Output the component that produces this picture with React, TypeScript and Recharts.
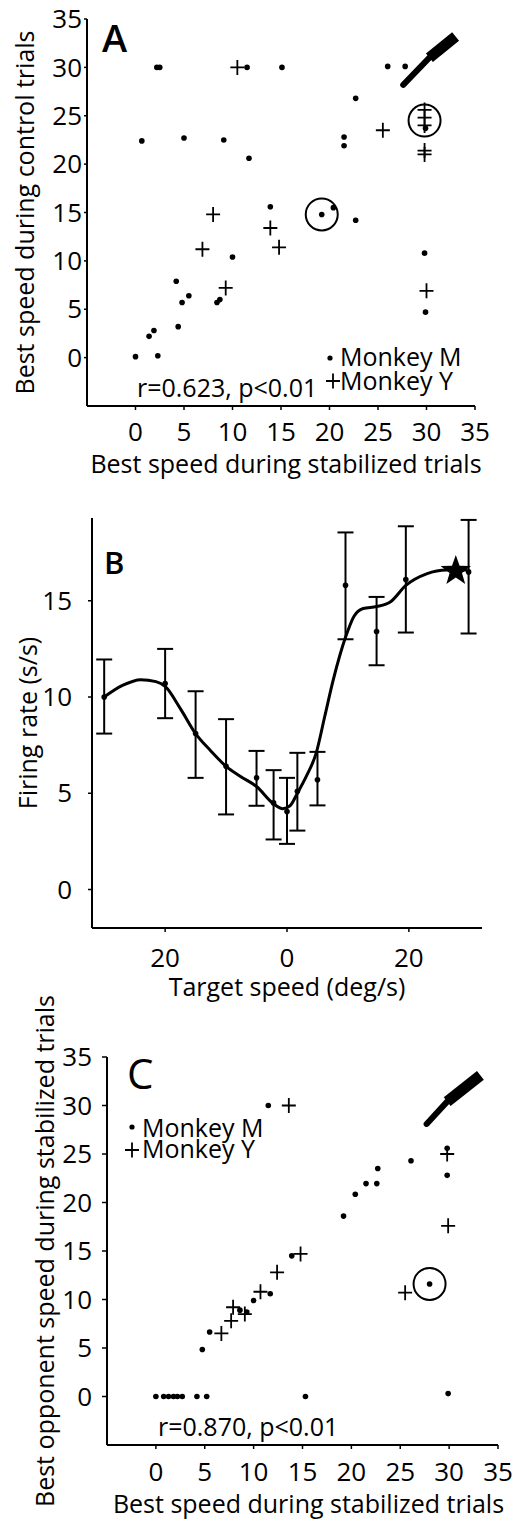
import React from 'react';
import {
  ComposedChart,
  ScatterChart,
  Scatter,
  Line,
  XAxis,
  YAxis,
  ErrorBar,
  ReferenceLine
} from 'recharts';

const FONT = '"Open Sans", sans-serif';

// ---- Panel A: best speed, stabilized (x) vs control (y) ----
const speedTicks = [0, 5, 10, 15, 20, 25, 30, 35];

const monkeyMA = [
  { x: 2.2, y: 30 }, { x: 2.5, y: 30 }, { x: 11.5, y: 30 }, { x: 15.1, y: 30 },
  { x: 26, y: 30.1 }, { x: 27.8, y: 30.1 }, { x: 22.7, y: 26.8 },
  { x: 0.65, y: 22.4 }, { x: 5, y: 22.7 }, { x: 9.1, y: 22.5 }, { x: 11.7, y: 20.6 },
  { x: 21.5, y: 22.8 }, { x: 21.5, y: 21.9 }, { x: 13.9, y: 15.6 }, { x: 19.2, y: 14.8 },
  { x: 20.4, y: 15.5 }, { x: 22.7, y: 14.2 }, { x: 10, y: 10.4 }, { x: 29.8, y: 10.8 },
  { x: 4.2, y: 7.9 }, { x: 4.8, y: 5.7 }, { x: 5.5, y: 6.4 }, { x: 4.4, y: 3.2 },
  { x: 1.4, y: 2.2 }, { x: 1.9, y: 2.8 }, { x: 0, y: 0.1 }, { x: 2.3, y: 0.2 },
  { x: 8.4, y: 5.7 }, { x: 8.7, y: 6.0 }, { x: 29.9, y: 4.7 }, { x: 29.9, y: 23.7 }
];

const monkeyYA = [
  { x: 10.5, y: 30 }, { x: 25.5, y: 23.5 }, { x: 29.8, y: 21.0 }, { x: 29.8, y: 21.4 },
  { x: 29.8, y: 25.6 }, { x: 29.8, y: 24.8 }, { x: 29.8, y: 24.0 }, { x: 8, y: 14.8 },
  { x: 6.9, y: 11.2 }, { x: 13.9, y: 13.4 }, { x: 14.8, y: 11.4 }, { x: 9.3, y: 7.2 },
  { x: 30, y: 6.9 }
];

const circledA = [{ x: 19.2, y: 14.8 }, { x: 29.8, y: 24.5 }];
const arrowA = [{ x: 27.6, y: 28.2 }, { x: 30.3, y: 31.0 }, { x: 33, y: 33.2 }];

// ---- Panel B: tuning curve ----
const targetTicks = [-20, 0, 20];
const rateTicks = [0, 5, 10, 15];
const tuningSpeeds = [-30, -20, -15, -10, -5, -2.2, 0, 1.7, 5, 9.6, 14.7, 19.5, 29.8];
const tuningRates = [10.0, 10.7, 8.1, 6.4, 5.8, 4.5, 4.05, 5.1, 5.7, 15.8, 13.4, 16.1, 16.5];
const tuningLow = [8.1, 8.9, 5.8, 3.9, 4.35, 2.6, 2.37, 3.06, 4.37, 13.0, 11.65, 13.35, 13.3];
const tuningHigh = [11.95, 12.5, 10.3, 8.85, 7.2, 6.2, 5.8, 7.1, 7.15, 18.55, 15.2, 18.87, 19.2];

const fitSpeeds = [-30, -27, -24, -21.5, -20, -17.5, -15, -12.5, -10, -7.5, -5, -2.2, -0.7, 0.5,
  1.7, 3.2, 4.8, 6.2, 7.6, 9.6, 11, 12.5, 14.7, 17, 19.5, 22.9, 26.2, 29.5];
const fitRates = [10.0, 10.6, 10.9, 10.8, 10.55, 9.4, 8.1, 7.2, 6.4, 5.85, 5.35, 4.45, 4.2, 4.35,
  5.0, 5.9, 7.1, 9.0, 10.9, 13.1, 14.2, 14.6, 14.7, 14.95, 15.8, 16.4, 16.6, 16.6];
const bestSpeed = [{ x: 27.7, y: 16.55 }];

// ---- Panel C: stabilized (x) vs best opponent (y) ----
const monkeyMC = [
  { x: 11.5, y: 30 }, { x: 29.8, y: 25.6 }, { x: 29.8, y: 22.8 }, { x: 26.1, y: 24.3 },
  { x: 22.7, y: 23.5 }, { x: 22.6, y: 21.95 }, { x: 21.5, y: 21.95 }, { x: 20.4, y: 20.85 },
  { x: 19.2, y: 18.6 }, { x: 13.9, y: 14.5 }, { x: 11.7, y: 10.6 }, { x: 10, y: 9.9 },
  { x: 8.6, y: 8.9 }, { x: 9.3, y: 8.7 }, { x: 5.5, y: 6.65 }, { x: 4.75, y: 4.85 },
  { x: 28, y: 11.6 }, { x: 0, y: 0 }, { x: 0.8, y: 0 }, { x: 1.3, y: 0 }, { x: 1.8, y: 0 },
  { x: 2.2, y: 0 }, { x: 2.7, y: 0 }, { x: 4.2, y: 0 }, { x: 5.2, y: 0 }, { x: 15.3, y: 0 },
  { x: 29.9, y: 0.3 }
];

const monkeyYC = [
  { x: 13.6, y: 30 }, { x: 29.8, y: 25.0 }, { x: 29.9, y: 17.6 }, { x: 14.8, y: 14.7 },
  { x: 12.4, y: 12.8 }, { x: 10.7, y: 10.8 }, { x: 7.9, y: 9.2 }, { x: 9.1, y: 8.5 },
  { x: 7.7, y: 7.8 }, { x: 6.7, y: 6.5 }, { x: 25.5, y: 10.7 }
];

const circledC = [{ x: 28, y: 11.6 }];
const arrowC = [{ x: 27.7, y: 28.1 }, { x: 29.8, y: 30.4 }, { x: 33.2, y: 33.1 }];

const tuningData = tuningSpeeds.map((x, i) => ({
  x,
  y: tuningRates[i],
  err: [tuningRates[i] - tuningLow[i], tuningHigh[i] - tuningRates[i]]
}));
const fitData = fitSpeeds.map((x, i) => ({ x, y: fitRates[i] }));

const Dot = (p: any) => <circle cx={p.cx} cy={p.cy} r={2.8} fill="#000" />;
const Cross = (p: any) => (
  <path
    d={`M${p.cx - 7},${p.cy}H${p.cx + 7}M${p.cx},${p.cy - 7.5}V${p.cy + 7.5}`}
    stroke="#000"
    strokeWidth={1.8}
    fill="none"
  />
);
const Ring = (p: any) => <circle cx={p.cx} cy={p.cy} r={16} stroke="#000" strokeWidth={2} fill="none" />;
const Star = (p: any) => {
  const pts = [];
  for (let i = 0; i < 10; i++) {
    const r = i % 2 === 0 ? 16 : 6.5;
    const a = -Math.PI / 2 + (i * Math.PI) / 5;
    pts.push(`${p.cx + r * Math.cos(a)},${p.cy + r * Math.sin(a)}`);
  }
  return <polygon points={pts.join(' ')} fill="#000" />;
};

const axisLine = { stroke: '#000', strokeWidth: 2 };
const tickLine = { stroke: '#000', strokeWidth: 1.5 };
const tickStyle = { fill: '#000', fontSize: 26, fontFamily: FONT };
const labelStyle = { fill: '#000', fontSize: 25, fontFamily: FONT };

export default function App() {
  return (
    <div style={{ position: 'absolute', left: 0, top: 0, width: 517, height: 1525, background: '#fff' }}>
      {/* Panel A */}
      <div style={{ position: 'absolute', left: 0, top: 0 }}>
        <ScatterChart width={517} height={490} margin={{ top: 19, right: 42, bottom: 0, left: 0 }}>
          <XAxis
            type="number"
            dataKey="x"
            domain={[-5, 35]}
            ticks={speedTicks}
            interval={0}
            allowDataOverflow
            height={84}
            tickSize={4}
            tickMargin={13}
            axisLine={axisLine}
            tickLine={tickLine}
            tick={tickStyle}
            label={{ value: 'Best speed during stabilized trials', position: 'insideBottom', offset: 17, ...labelStyle, dx: 5 }}
          />
          <YAxis
            type="number"
            dataKey="y"
            domain={[-5, 35]}
            ticks={speedTicks}
            interval={0}
            allowDataOverflow
            width={87}
            tickSize={3}
            tickMargin={2}
            axisLine={axisLine}
            tickLine={tickLine}
            tick={tickStyle}
            label={{ value: 'Best speed during control trials', position: 'center', angle: -90, dx: -18, ...labelStyle }}
          />
          <ReferenceLine segment={[arrowA[0], arrowA[1]]} stroke="#000" strokeWidth={6} strokeLinecap="round" />
          <ReferenceLine segment={[arrowA[1], arrowA[2]]} stroke="#000" strokeWidth={11} />
          <Scatter name="Monkey M" data={monkeyMA} shape={Dot} isAnimationActive={false} />
          <Scatter name="Monkey Y" data={monkeyYA} shape={Cross} isAnimationActive={false} />
          <Scatter data={circledA} shape={Ring} isAnimationActive={false} />
        </ScatterChart>
      </div>

      {/* Panel B */}
      <div style={{ position: 'absolute', left: 0, top: 490 }}>
        <ComposedChart width={517} height={515} margin={{ top: 28, right: 35, bottom: 0, left: 0 }}>
          <XAxis
            type="number"
            dataKey="x"
            domain={[-32, 32]}
            ticks={targetTicks}
            interval={0}
            allowDataOverflow
            height={77}
            tickSize={4}
            tickMargin={17}
            axisLine={axisLine}
            tickLine={tickLine}
            tick={tickStyle}
            tickFormatter={(v: number) => String(Math.abs(v))}
            label={{ value: 'Target speed (deg/s)', position: 'insideBottom', offset: 9, ...labelStyle }}
          />
          <YAxis
            type="number"
            dataKey="y"
            domain={[-2, 19.3]}
            ticks={rateTicks}
            interval={0}
            allowDataOverflow
            width={92}
            tickSize={4}
            tickMargin={16}
            axisLine={axisLine}
            tickLine={tickLine}
            tick={tickStyle}
            label={{ value: 'Firing rate (s/s)', position: 'center', angle: -90, dx: -18, ...labelStyle }}
          />
          <Line data={fitData} dataKey="y" type="monotone" stroke="#000" strokeWidth={3} dot={false} isAnimationActive={false} />
          <Scatter data={tuningData} dataKey="y" shape={Dot} isAnimationActive={false}>
            <ErrorBar dataKey="err" direction="y" width={8} stroke="#000" strokeWidth={2} />
          </Scatter>
          <Scatter data={bestSpeed} dataKey="y" shape={Star} isAnimationActive={false} />
        </ComposedChart>
      </div>

      {/* Panel C */}
      <div style={{ position: 'absolute', left: 0, top: 985 }}>
        <ScatterChart width={517} height={540} margin={{ top: 72, right: 19, bottom: 0, left: 0 }}>
          <XAxis
            type="number"
            dataKey="x"
            domain={[-5, 35]}
            ticks={speedTicks}
            interval={0}
            allowDataOverflow
            height={80}
            tickSize={4}
            tickMargin={14}
            axisLine={axisLine}
            tickLine={tickLine}
            tick={tickStyle}
            label={{ value: 'Best speed during stabilized trials', position: 'insideBottom', offset: 12, ...labelStyle, dx: 6 }}
          />
          <YAxis
            type="number"
            dataKey="y"
            domain={[-5, 35]}
            ticks={speedTicks}
            interval={0}
            allowDataOverflow
            width={107}
            tickSize={5}
            tickMargin={10}
            axisLine={axisLine}
            tickLine={tickLine}
            tick={tickStyle}
            label={{ value: 'Best opponent speed during stabilized trials', position: 'center', angle: -90, dx: -8, ...labelStyle }}
          />
          <ReferenceLine segment={[arrowC[0], arrowC[1]]} stroke="#000" strokeWidth={6} strokeLinecap="round" />
          <ReferenceLine segment={[arrowC[1], arrowC[2]]} stroke="#000" strokeWidth={11} />
          <Scatter name="Monkey M" data={monkeyMC} shape={Dot} isAnimationActive={false} />
          <Scatter name="Monkey Y" data={monkeyYC} shape={Cross} isAnimationActive={false} />
          <Scatter data={circledC} shape={Ring} isAnimationActive={false} />
        </ScatterChart>
      </div>

      {/* panel letters, legends, stats */}
      <svg
        width={517}
        height={1525}
        style={{ position: 'absolute', left: 0, top: 0, pointerEvents: 'none' }}
        fontFamily={FONT}
      >
        <text x={102} y={52} fontSize={38} fontWeight={600}>A</text>
        <text x={104} y={574} fontSize={31} fontWeight={600}>B</text>
        <text x={127} y={1089} fontSize={42}>C</text>

        <circle cx={330} cy={358} r={2.6} fill="#000" />
        <text x={340} y={366} fontSize={25}>Monkey M</text>
        <path d="M326,381H340M333,373.5V388.5" stroke="#000" strokeWidth={1.8} />
        <text x={340} y={390} fontSize={25}>Monkey Y</text>
        <text x={137} y={397} fontSize={25}>r=0.623, p&lt;0.01</text>

        <circle cx={132} cy={1127} r={2.6} fill="#000" />
        <text x={142} y={1137} fontSize={25}>Monkey M</text>
        <path d="M125,1150H139M132,1142.5V1157.5" stroke="#000" strokeWidth={1.8} />
        <text x={142} y={1158} fontSize={25}>Monkey Y</text>
        <text x={158} y={1436} fontSize={25}>r=0.870, p&lt;0.01</text>
      </svg>
    </div>
  );
}
